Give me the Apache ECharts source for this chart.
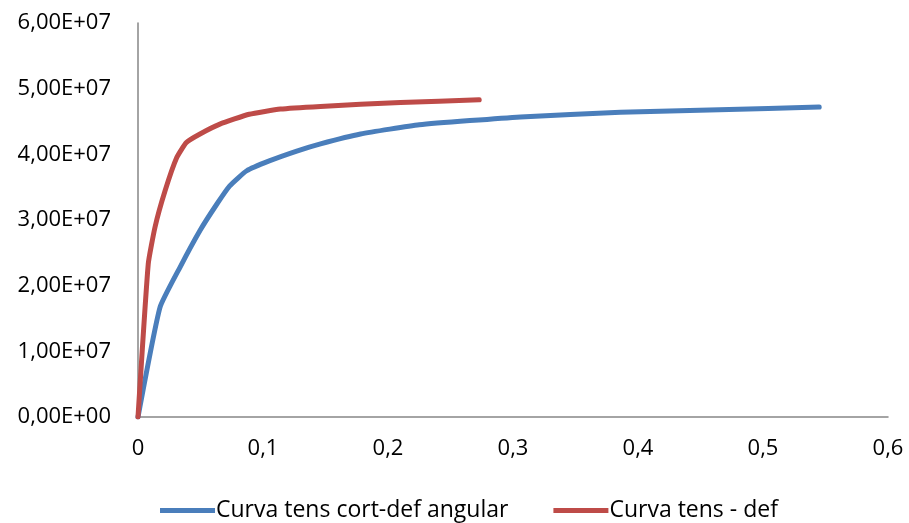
<!DOCTYPE html>
<html>
<head>
<meta charset="utf-8">
<script src="https://cdn.jsdelivr.net/npm/echarts@6/dist/echarts.min.js"></script>
<style>html,body{margin:0;padding:0;background:#fff}#c{width:909px;height:523px}</style>
</head>
<body>
<div id="c"></div>
<script>
const seriesNames = ["Curva tens cort-def angular", "Curva tens - def"];
const blueStrain = [0, 0.0176, 0.0336, 0.0496, 0.063, 0.0734, 0.087, 0.105, 0.127, 0.146, 0.178, 0.225, 0.306, 0.386, 0.465, 0.545];
const blueStress = [0, 1.67e7, 2.28e7, 2.84e7, 3.24e7, 3.52e7, 3.75e7, 3.90e7, 4.05e7, 4.16e7, 4.31e7, 4.45e7, 4.57e7, 4.64e7, 4.68e7, 4.72e7];
const redStrain = [0, 0.0082, 0.0136, 0.0216, 0.031, 0.0387, 0.0496, 0.0655, 0.089, 0.114, 0.146, 0.21, 0.273];
const redStress = [0, 2.33e7, 2.89e7, 3.44e7, 3.95e7, 4.18e7, 4.31e7, 4.46e7, 4.61e7, 4.69e7, 4.73e7, 4.79e7, 4.83e7];
const xTicks = [0, 0.1, 0.2, 0.3, 0.4, 0.5, 0.6];
const yTicks = [0, 1e7, 2e7, 3e7, 4e7, 5e7, 6e7];

function fmtY(v) {
  if (v === 0) return "0,00E+00";
  const e = Math.floor(Math.log10(Math.abs(v)) + 1e-9);
  const m = v / Math.pow(10, e);
  return m.toFixed(2).replace(".", ",") + "E+" + String(e).padStart(2, "0");
}
function fmtX(v) {
  return String(Math.round(v * 10) / 10).replace(".", ",");
}
const zip = (a, b) => a.map((x, i) => [x, b[i]]);
const font = "'Open Sans', sans-serif";
const chart = echarts.init(document.getElementById("c"));
chart.setOption({
  animation: false,
  grid: { left: 138, right: 21, top: 23, bottom: 106, containLabel: false },
  legend: {
    left: 155, top: 494,
    itemWidth: 55, itemHeight: 5, itemGap: 45,
    icon: "rect",
    textStyle: { fontFamily: font, fontSize: 23, color: "#000", padding: [0, 0, 0, -4] },
    data: seriesNames
  },
  xAxis: {
    type: "value", min: xTicks[0], max: xTicks[xTicks.length - 1], interval: 0.1,
    axisLine: { lineStyle: { color: "#868686", width: 1.5 } },
    axisTick: { show: false },
    splitLine: { show: false },
    axisLabel: { formatter: fmtX, fontFamily: font, fontSize: 22, color: "#000", margin: 21 }
  },
  yAxis: {
    type: "value", min: yTicks[0], max: yTicks[yTicks.length - 1], interval: 1e7,
    axisLine: { show: true, lineStyle: { color: "#868686", width: 1.5 } },
    axisTick: { show: false },
    splitLine: { show: false },
    axisLabel: { formatter: fmtY, fontFamily: font, fontSize: 22, color: "#000", margin: 27 }
  },
  series: [
    { name: seriesNames[0], type: "line", data: zip(blueStrain, blueStress), showSymbol: false, smooth: 0.15,
      lineStyle: { color: "#4A7EBB", width: 5, cap: "round", join: "round" }, itemStyle: { color: "#4A7EBB" } },
    { name: seriesNames[1], type: "line", data: zip(redStrain, redStress), showSymbol: false, smooth: 0.15,
      lineStyle: { color: "#BE4B48", width: 5, cap: "round", join: "round" }, itemStyle: { color: "#BE4B48" } }
  ]
});
</script>
</body>
</html>
